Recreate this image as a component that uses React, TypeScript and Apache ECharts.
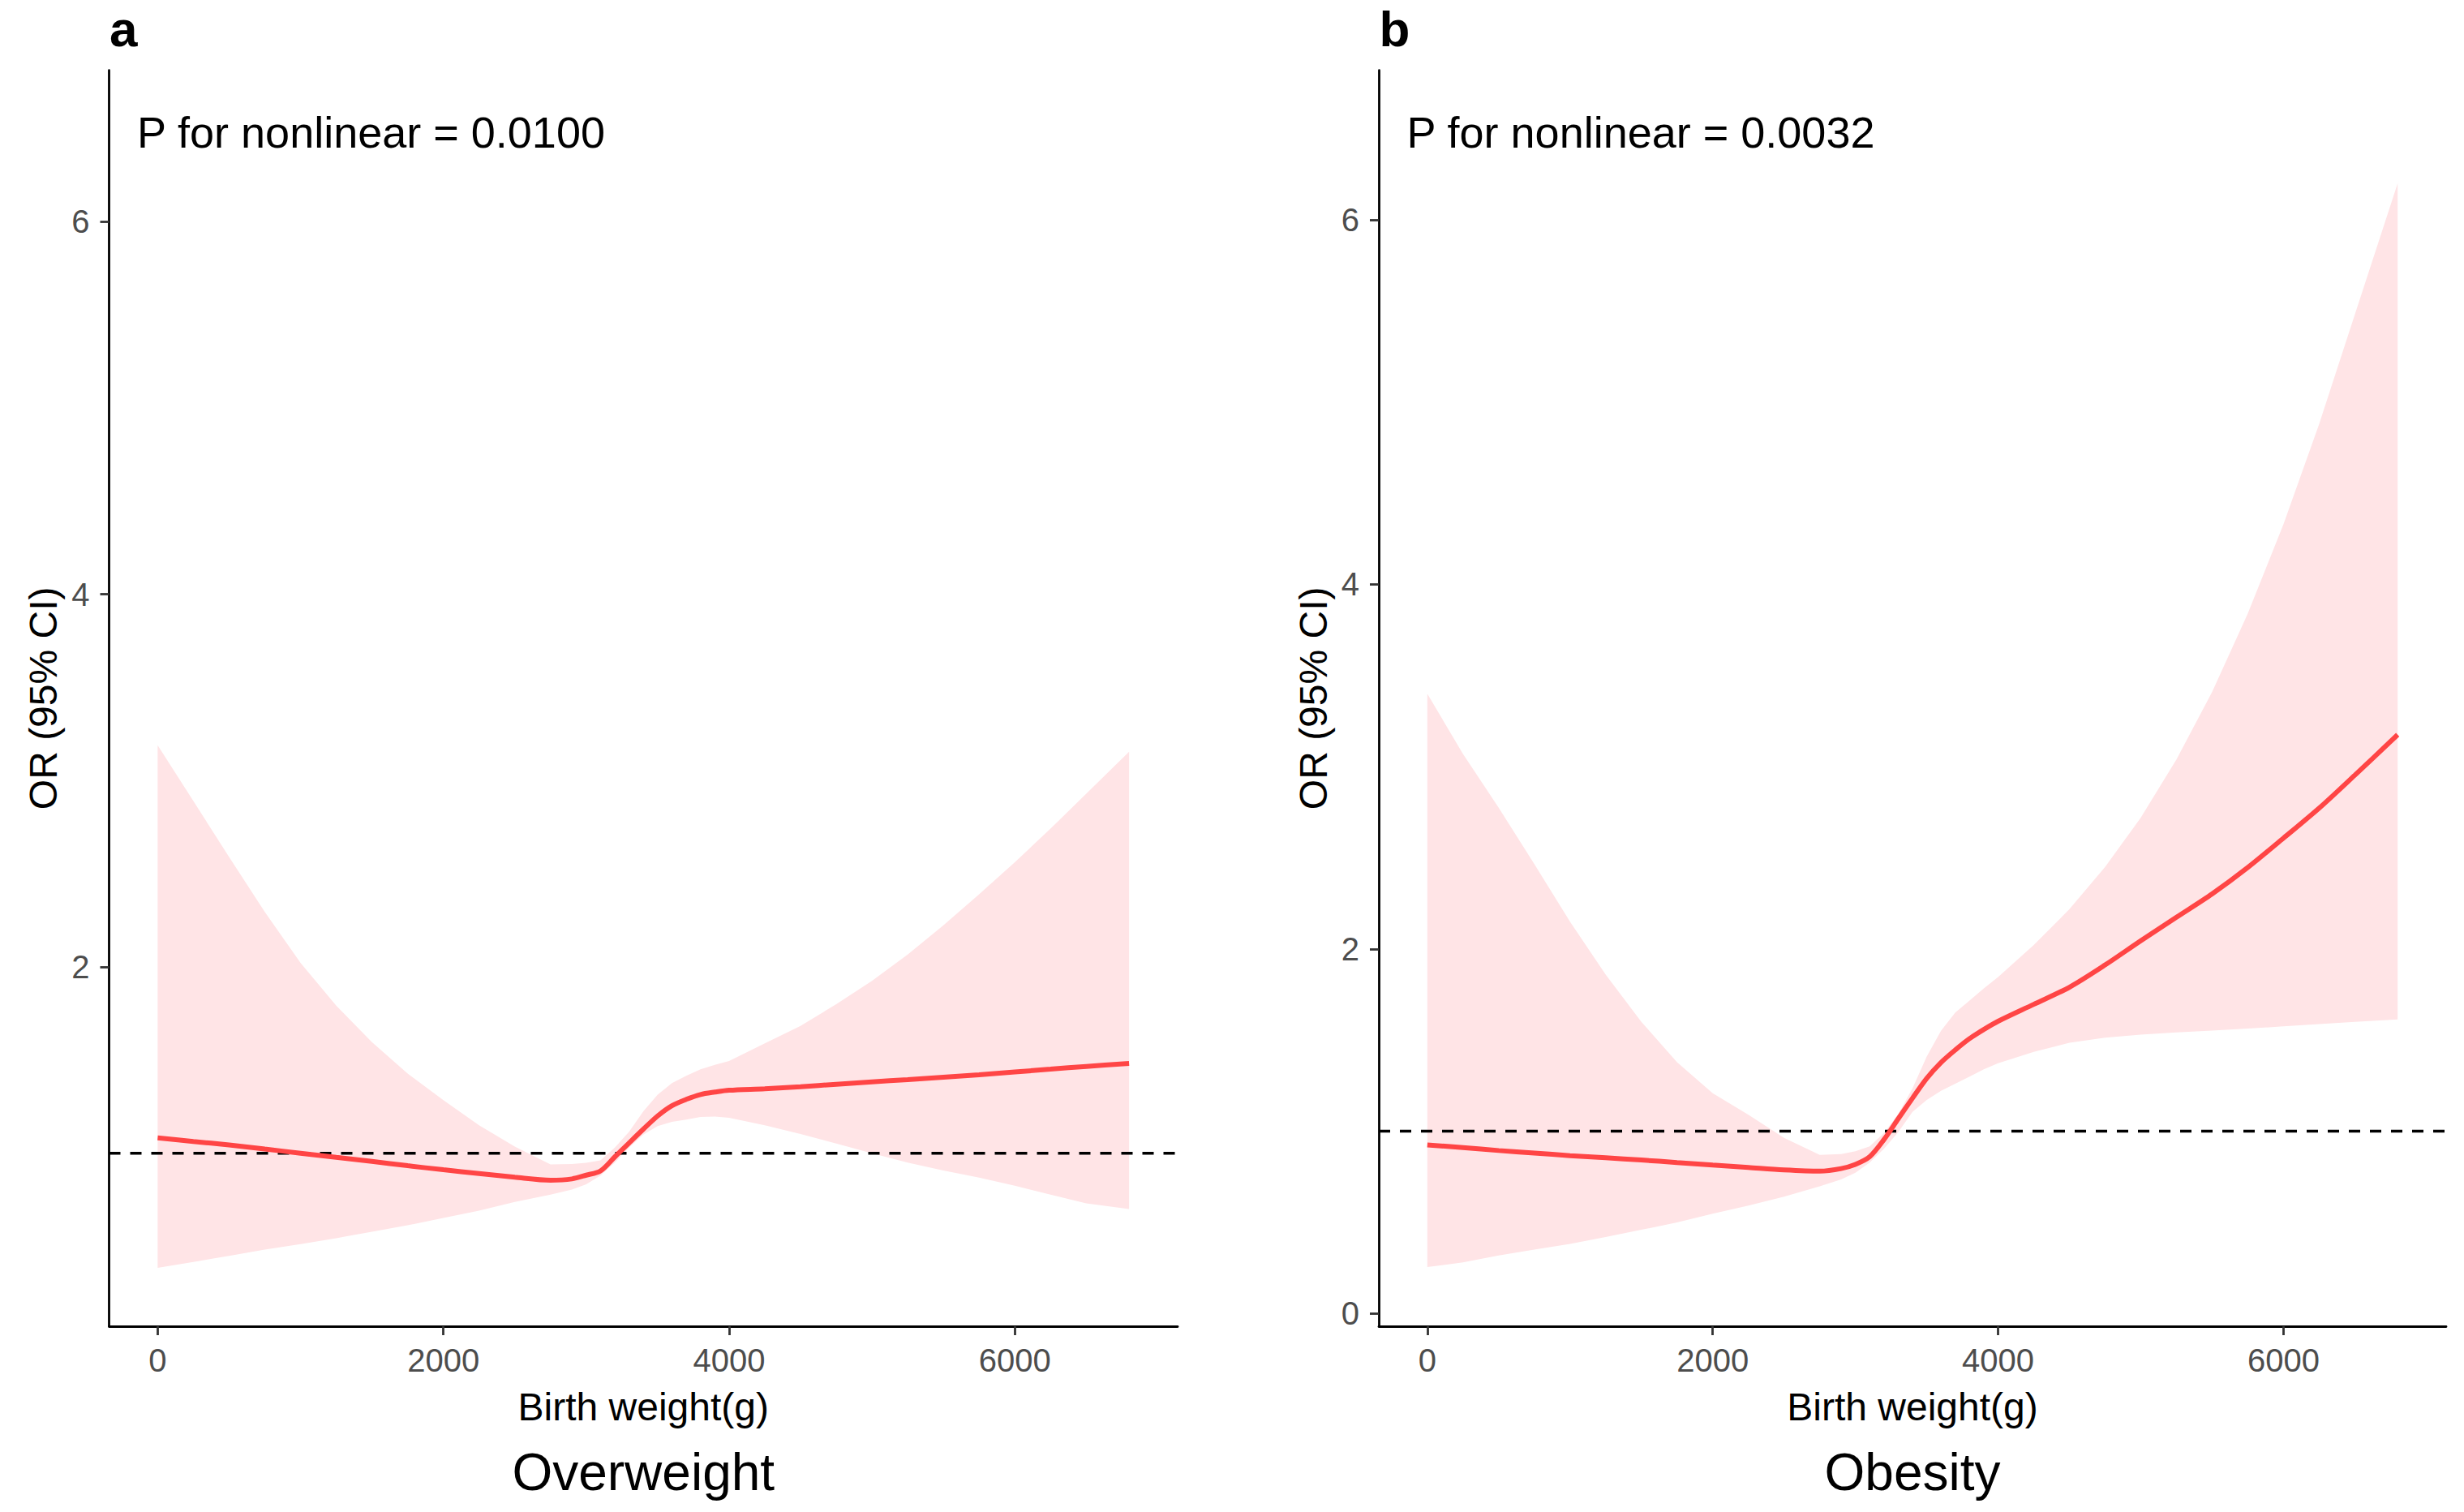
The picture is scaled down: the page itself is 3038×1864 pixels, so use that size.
import React, { useEffect, useRef } from "react";
import * as echarts from "echarts";

// ---------------- data ----------------
const birthWeight = [
  0, 250, 500, 750, 1000, 1250, 1500, 1750, 2000, 2250, 2500, 2750, 2900, 3000, 3100,
  3200, 3300, 3400, 3500, 3600, 3700, 3800, 3900, 4000, 4250, 4500, 4750, 5000, 5250,
  5500, 5750, 6000, 6250, 6500, 6800,
];

// Panel a: Overweight
const overweightOR = [
  1.082, 1.063, 1.044, 1.022, 1.0, 0.978, 0.956, 0.933, 0.911, 0.891, 0.871, 0.855, 0.862, 0.882, 0.905,
  0.98, 1.055, 1.129, 1.2, 1.255, 1.289, 1.315, 1.328, 1.338, 1.346, 1.357, 1.37, 1.383, 1.395,
  1.408, 1.421, 1.436, 1.451, 1.466, 1.482,
];
const overweightUpper = [
  3.19, 2.89, 2.59, 2.295, 2.022, 1.792, 1.596, 1.427, 1.285, 1.15, 1.036, 0.94, 0.942, 0.948, 0.962,
  1.03, 1.115, 1.225, 1.314, 1.376, 1.415, 1.45, 1.474, 1.495, 1.59, 1.683, 1.8, 1.925, 2.066,
  2.223, 2.39, 2.562, 2.742, 2.93, 3.155,
];
const overweightLower = [
  0.384, 0.416, 0.449, 0.483, 0.512, 0.544, 0.578, 0.613, 0.652, 0.691, 0.738, 0.778, 0.805, 0.833, 0.88,
  0.95, 1.03, 1.1, 1.145, 1.168, 1.18, 1.194, 1.197, 1.19, 1.15, 1.103, 1.052, 1.0, 0.95,
  0.907, 0.869, 0.825, 0.778, 0.731, 0.7,
];

// Panel b: Obesity
const obesityOR = [
  0.925, 0.91, 0.894, 0.88, 0.866, 0.854, 0.842, 0.828, 0.814, 0.801, 0.788, 0.781, 0.795, 0.818, 0.86,
  0.954, 1.068, 1.181, 1.29, 1.377, 1.446, 1.508, 1.558, 1.603, 1.696, 1.79, 1.912, 2.045, 2.174,
  2.302, 2.447, 2.608, 2.772, 2.953, 3.175,
];
const obesityUpper = [
  3.4, 3.07, 2.775, 2.465, 2.15, 1.859, 1.6, 1.379, 1.208, 1.09, 0.964, 0.87, 0.875, 0.89, 0.917,
  0.99, 1.094, 1.235, 1.41, 1.551, 1.651, 1.717, 1.783, 1.846, 2.022, 2.218, 2.45, 2.72, 3.04,
  3.41, 3.84, 4.33, 4.88, 5.48, 6.2,
];
const obesityLower = [
  0.255, 0.28, 0.318, 0.35, 0.382, 0.42, 0.459, 0.5, 0.547, 0.592, 0.641, 0.698, 0.735, 0.772, 0.828,
  0.904, 0.995, 1.106, 1.172, 1.222, 1.261, 1.3, 1.34, 1.373, 1.435, 1.485, 1.513, 1.53, 1.542,
  1.552, 1.563, 1.575, 1.588, 1.6, 1.613,
];

const referenceOR = 1;
const xTicks = [0, 2000, 4000, 6000];
const yTicksA = [2, 4, 6];
const yTicksB = [0, 2, 4, 6];
const xLimits = [-340, 7140];
const yLimitsA = [0.071, 6.813];
const yLimitsB = [-0.07, 6.82];

const tags = ["a", "b"];
const pTexts = ["P for nonlinear = 0.0100", "P for nonlinear = 0.0032"];
const titles = ["Overweight", "Obesity"];
const xTitle = "Birth weight(g)";
const yTitle = "OR (95% CI)";

// ---------------- styles / layout ----------------
const FONT = "'Liberation Sans', Arial, Helvetica, sans-serif";
const LINE_COLOR = "#FF4545";
const BAND_COLOR = "#FFE4E6";
const GRID_TOP = 86.7;
const GRID_H = 1548.3;

const panels = [
  { left: 134.5, width: 1317.5, yLim: yLimitsA, yTicks: yTicksA, or: overweightOR, up: overweightUpper, lo: overweightLower },
  { left: 1700, width: 1316, yLim: yLimitsB, yTicks: yTicksB, or: obesityOR, up: obesityUpper, lo: obesityLower },
];

function buildOption() {
  const grid: any[] = [];
  const xAxis: any[] = [];
  const yAxis: any[] = [];
  const series: any[] = [];
  const graphic: any[] = [];

  panels.forEach((p, k) => {
    grid.push({ left: p.left, top: GRID_TOP, width: p.width, height: GRID_H, containLabel: false });
    xAxis.push({
      gridIndex: k,
      type: "value",
      min: xLimits[0],
      max: xLimits[1],
      axisLine: { show: true, onZero: false, lineStyle: { color: "#000", width: 2.8 } },
      axisTick: { show: true, length: 11, customValues: xTicks, lineStyle: { color: "#333", width: 2.8 } },
      axisLabel: {
        show: true,
        customValues: xTicks,
        formatter: (v: number) => String(v),
        fontSize: 40,
        color: "#4D4D4D",
        fontFamily: FONT,
        margin: 22,
      },
      splitLine: { show: false },
    });
    yAxis.push({
      gridIndex: k,
      type: "value",
      min: p.yLim[0],
      max: p.yLim[1],
      axisLine: { show: true, onZero: false, lineStyle: { color: "#000", width: 2.8 } },
      axisTick: { show: true, length: 11, customValues: p.yTicks, lineStyle: { color: "#333", width: 2.8 } },
      axisLabel: {
        show: true,
        customValues: p.yTicks,
        formatter: (v: number) => String(v),
        fontSize: 40,
        color: "#4D4D4D",
        fontFamily: FONT,
        margin: 24,
      },
      splitLine: { show: false },
    });

    // confidence band
    series.push({
      type: "custom",
      xAxisIndex: k,
      yAxisIndex: k,
      silent: true,
      z: 1,
      data: [[birthWeight[0], p.lo[0]]],
      renderItem: (_params: any, api: any) => {
        const pts: number[][] = [];
        for (let i = 0; i < birthWeight.length; i++) pts.push(api.coord([birthWeight[i], p.up[i]]));
        for (let i = birthWeight.length - 1; i >= 0; i--) pts.push(api.coord([birthWeight[i], p.lo[i]]));
        return { type: "polygon", shape: { points: pts }, style: { fill: BAND_COLOR, stroke: null } };
      },
    });
    // reference line OR = 1
    series.push({
      type: "line",
      xAxisIndex: k,
      yAxisIndex: k,
      silent: true,
      z: 2,
      symbol: "none",
      data: [
        [xLimits[0], referenceOR],
        [xLimits[1], referenceOR],
      ],
      lineStyle: { color: "#000", width: 3.5, type: [14, 12] },
    });
    // OR curve
    series.push({
      type: "line",
      xAxisIndex: k,
      yAxisIndex: k,
      silent: true,
      z: 3,
      symbol: "none",
      smooth: 0.3,
      data: birthWeight.map((x, i) => [x, p.or[i]]),
      lineStyle: { color: LINE_COLOR, width: 6 },
    });

    const cx = p.left + p.width / 2;
    const cy = GRID_TOP + GRID_H / 2;
    const txt = (text: string, x: number, y: number, size: number, extra: any = {}, rot = 0) => ({
      type: "text",
      x,
      y,
      rotation: rot,
      silent: true,
      style: {
        text,
        fill: "#000",
        font: `${extra.weight || "normal"} ${size}px ${FONT}`,
        align: extra.align || "left",
        verticalAlign: "middle",
        textAlign: extra.align || "left",
        textVerticalAlign: "middle",
      },
    });
    graphic.push(txt(tags[k], p.left + 0.5, 35.5, 62, { weight: "bold" }));
    graphic.push(txt(pTexts[k], p.left + 34.5, 163, 54));
    graphic.push(txt(xTitle, cx, 1734, 48, { align: "center" }));
    graphic.push(txt(titles[k], cx, 1814.5, 64, { align: "center" }));
    graphic.push(txt(yTitle, p.left - 81, cy, 48, { align: "center" }, Math.PI / 2));
  });

  return {
    animation: false,
    backgroundColor: "#ffffff",
    textStyle: { fontFamily: FONT },
    grid,
    xAxis,
    yAxis,
    series,
    graphic,
  };
}

export default function App() {
  const ref = useRef<HTMLDivElement>(null);
  useEffect(() => {
    if (!ref.current) return;
    const chart = echarts.init(ref.current, null, { renderer: "svg" });
    chart.setOption(buildOption());
    return () => chart.dispose();
  }, []);
  return (
    <div
      ref={ref}
      style={{ position: "absolute", left: 0, top: 0, width: 3038, height: 1864, background: "#fff" }}
    />
  );
}
